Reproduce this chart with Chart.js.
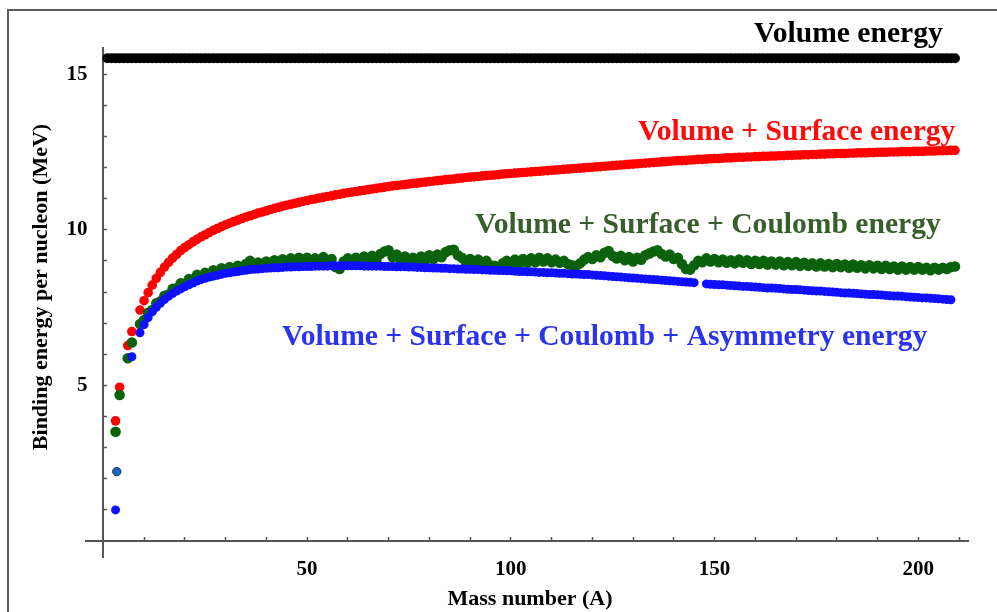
<!DOCTYPE html>
<html>
<head>
<meta charset="utf-8">
<script src="https://cdn.jsdelivr.net/npm/chart.js@4.4.1/dist/chart.umd.min.js"></script>
<style>
  html, body { margin: 0; padding: 0; background: #fff; }
  #c { display: block; }
</style>
</head>
<body>
<canvas id="c" width="997" height="612"></canvas>
<script>
// ---------------- DATA ----------------
const massNumbers = [
  1,2,3,4,5,6,7,8,9,10,11,12,13,14,15,16,17,18,19,20,
  21,22,23,24,25,26,27,28,29,30,31,32,33,34,35,36,37,38,39,40,
  41,42,43,44,45,46,47,48,49,50,51,52,53,54,55,56,57,58,59,60,
  61,62,63,64,65,66,67,68,69,70,71,72,73,74,75,76,77,78,79,80,
  81,82,83,84,85,86,87,88,89,90,91,92,93,94,95,96,97,98,99,100,
  101,102,103,104,105,106,107,108,109,110,111,112,113,114,115,116,117,118,119,120,
  121,122,123,124,125,126,127,128,129,130,131,132,133,134,135,136,137,138,139,140,
  141,142,143,144,145,146,147,148,149,150,151,152,153,154,155,156,157,158,159,160,
  161,162,163,164,165,166,167,168,169,170,171,172,173,174,175,176,177,178,179,180,
  181,182,183,184,185,186,187,188,189,190,191,192,193,194,195,196,197,198,199,200,
  201,202,203,204,205,206,207,208,209
];

const volumeEnergy = [
  15.51,15.51,15.51,15.51,15.51,15.51,15.51,15.51,15.51,15.51,15.51,15.51,15.51,15.51,15.51,15.51,15.51,15.51,15.51,15.51,
  15.51,15.51,15.51,15.51,15.51,15.51,15.51,15.51,15.51,15.51,15.51,15.51,15.51,15.51,15.51,15.51,15.51,15.51,15.51,15.51,
  15.51,15.51,15.51,15.51,15.51,15.51,15.51,15.51,15.51,15.51,15.51,15.51,15.51,15.51,15.51,15.51,15.51,15.51,15.51,15.51,
  15.51,15.51,15.51,15.51,15.51,15.51,15.51,15.51,15.51,15.51,15.51,15.51,15.51,15.51,15.51,15.51,15.51,15.51,15.51,15.51,
  15.51,15.51,15.51,15.51,15.51,15.51,15.51,15.51,15.51,15.51,15.51,15.51,15.51,15.51,15.51,15.51,15.51,15.51,15.51,15.51,
  15.51,15.51,15.51,15.51,15.51,15.51,15.51,15.51,15.51,15.51,15.51,15.51,15.51,15.51,15.51,15.51,15.51,15.51,15.51,15.51,
  15.51,15.51,15.51,15.51,15.51,15.51,15.51,15.51,15.51,15.51,15.51,15.51,15.51,15.51,15.51,15.51,15.51,15.51,15.51,15.51,
  15.51,15.51,15.51,15.51,15.51,15.51,15.51,15.51,15.51,15.51,15.51,15.51,15.51,15.51,15.51,15.51,15.51,15.51,15.51,15.51,
  15.51,15.51,15.51,15.51,15.51,15.51,15.51,15.51,15.51,15.51,15.51,15.51,15.51,15.51,15.51,15.51,15.51,15.51,15.51,15.51,
  15.51,15.51,15.51,15.51,15.51,15.51,15.51,15.51,15.51,15.51,15.51,15.51,15.51,15.51,15.51,15.51,15.51,15.51,15.51,15.51,
  15.51,15.51,15.51,15.51,15.51,15.51,15.51,15.51,15.51
];

const volumeSurface = [
  null,null,3.86,4.94,null,6.28,6.73,null,7.42,7.72,
  7.98,8.22,8.44,8.63,8.80,8.95,9.09,9.21,9.33,9.43,
  9.52,9.61,9.69,9.77,9.84,9.91,9.98,10.04,10.10,10.16,
  10.21,10.26,10.31,10.36,10.41,10.45,10.49,10.54,10.57,10.61,
  10.65,10.69,10.72,10.76,10.79,10.82,10.85,10.88,10.91,10.94,
  10.97,10.99,11.02,11.04,11.07,11.09,11.12,11.14,11.17,11.19,
  11.21,11.23,11.25,11.27,11.29,11.31,11.33,11.35,11.37,11.39,
  11.41,11.42,11.44,11.45,11.47,11.49,11.50,11.52,11.53,11.55,
  11.56,11.58,11.59,11.61,11.62,11.63,11.65,11.66,11.68,11.69,
  11.70,11.71,11.73,11.74,11.75,11.76,11.77,11.79,11.80,11.81,
  11.82,11.83,11.84,11.85,11.86,11.87,11.88,11.89,11.90,11.91,
  11.92,11.93,11.94,11.95,11.96,11.97,11.98,11.99,12.00,12.01,
  12.02,12.03,12.04,12.05,12.06,12.07,12.08,12.09,12.10,12.11,
  12.12,12.13,12.14,12.15,12.16,12.17,12.18,12.19,12.20,12.21,
  12.22,12.22,12.23,12.24,12.25,12.26,12.26,12.27,12.28,12.29,
  12.29,12.30,12.31,12.31,12.32,12.33,12.33,12.34,12.34,12.35,
  12.35,12.36,12.36,12.37,12.37,12.38,12.38,12.39,12.39,12.40,
  12.40,12.41,12.41,12.42,12.42,12.43,12.43,12.44,12.44,12.45,
  12.45,12.45,12.46,12.46,12.47,12.47,12.47,12.48,12.48,12.49,
  12.49,12.49,12.50,12.50,12.50,12.51,12.51,12.51,12.52,12.52,
  12.52,12.53,12.53,12.53,12.54,12.54,12.54,12.55,12.55
];

const volumeSurfaceCoulomb = [
  null,null,3.51,4.69,null,5.87,6.38,null,6.97,7.10,
  7.33,7.42,7.64,7.70,7.88,7.92,8.10,8.12,8.28,8.27,
  8.42,8.40,8.55,8.48,8.62,8.56,8.70,8.62,8.76,8.68,
  8.80,8.70,8.84,8.74,8.90,9.00,8.78,8.95,8.84,8.98,
  8.88,9.02,8.90,9.05,8.92,9.08,8.94,9.10,8.95,9.10,
  8.96,9.08,8.95,9.12,8.92,9.06,8.80,8.74,8.98,9.08,
  8.94,9.10,8.96,9.14,8.98,9.16,9.02,9.22,9.30,9.34,
  9.12,9.20,9.02,9.14,8.96,9.10,8.98,9.14,9.02,9.18,
  9.06,9.20,9.12,9.28,9.34,9.36,9.18,9.10,8.96,9.06,
  8.92,9.04,8.90,9.00,8.86,8.84,8.80,8.92,9.00,8.90,
  9.04,8.92,9.06,8.94,9.08,8.96,9.10,8.98,9.08,8.96,
  9.04,8.94,9.00,8.90,8.86,8.84,8.92,9.04,9.12,9.06,
  9.18,9.12,9.26,9.32,9.16,9.08,9.16,9.02,9.12,8.98,
  9.10,9.04,9.18,9.24,9.30,9.34,9.22,9.14,9.20,9.06,
  9.10,8.90,8.74,8.72,8.86,9.00,8.96,9.08,8.98,9.06,
  8.96,9.04,8.94,9.02,8.92,9.04,8.94,9.02,8.90,9.00,
  8.90,9.00,8.88,8.98,8.88,8.98,8.86,8.96,8.86,8.96,
  8.84,8.94,8.84,8.92,8.82,8.92,8.82,8.90,8.80,8.90,
  8.80,8.88,8.78,8.88,8.78,8.86,8.76,8.86,8.76,8.84,
  8.74,8.84,8.74,8.82,8.72,8.82,8.72,8.80,8.72,8.80,
  8.72,8.78,8.70,8.78,8.72,8.78,8.74,8.80,8.82
];

const volumeSurfaceCoulombAsymmetry = [
  null,null,1.00,null,null,null,5.92,null,6.69,6.95,
  7.18,7.36,7.51,7.64,7.76,7.86,7.95,8.03,8.10,8.17,
  8.23,8.29,8.35,8.40,8.44,8.48,8.51,8.54,8.57,8.60,
  8.62,8.64,8.66,8.68,8.70,8.72,8.73,8.74,8.75,8.76,
  8.77,8.78,8.78,8.79,8.80,8.80,8.81,8.81,8.82,8.82,
  8.82,8.83,8.83,8.83,8.83,8.84,8.84,8.84,8.84,8.84,
  8.84,8.84,8.84,8.83,8.83,8.83,8.83,8.83,8.82,8.82,
  8.82,8.81,8.81,8.81,8.80,8.80,8.79,8.79,8.78,8.78,
  8.77,8.77,8.76,8.76,8.75,8.75,8.74,8.74,8.73,8.73,
  8.72,8.72,8.71,8.71,8.70,8.70,8.69,8.69,8.68,8.68,
  8.67,8.66,8.66,8.65,8.65,8.64,8.63,8.63,8.62,8.62,
  8.61,8.60,8.60,8.59,8.58,8.58,8.57,8.56,8.56,8.55,
  8.54,8.53,8.52,8.51,8.50,8.49,8.48,8.47,8.46,8.45,
  8.44,8.43,8.42,8.41,8.40,8.39,8.38,8.37,8.36,8.35,
  8.34,8.33,8.32,8.31,8.30,null,null,8.26,8.25,8.24,
  8.23,8.23,8.22,8.21,8.20,8.19,8.18,8.18,8.17,8.16,
  8.15,8.14,8.13,8.13,8.12,8.11,8.10,8.09,8.08,8.08,
  8.07,8.06,8.05,8.04,8.03,8.03,8.02,8.01,8.00,7.99,
  7.98,7.97,7.97,7.96,7.95,7.94,7.93,7.92,7.92,7.91,
  7.90,7.89,7.88,7.87,7.87,7.86,7.85,7.84,7.83,7.82,
  7.81,7.81,7.80,7.79,7.78,7.77,7.76,7.75,null
];

// single off-colour point near A = 3
const outlierMass = [3.3];
const outlierValue = [2.23];

const xTickValues = [10,20,30,40,50,60,70,80,90,100,110,120,130,140,150,160,170,180,190,200,210];
const xTickLabels = [50,100,150,200];
const yTickValues = [1,2,3,4,5,6,7,8,9,10,11,12,13,14,15];
const yTickLabels = [5,10,15];

const seriesNames = [
  'Volume energy',
  'Volume + Surface energy',
  'Volume + Surface + Coulomb energy',
  'Volume + Surface + Coulomb + Asymmetry energy'
];
const xTitle = 'Mass number (A)';
const yTitle = 'Binding energy per nucleon (MeV)';

// ---------------- CHART ----------------
const SERIF = '"Liberation Serif", "Times New Roman", serif';
function pts(vals) { return massNumbers.map((a, i) => ({ x: a, y: vals[i] })); }

const decorations = {
  id: 'decorations',
  beforeDraw(chart) {
    const ctx = chart.ctx;
    ctx.save();
    ctx.fillStyle = '#ffffff';
    ctx.fillRect(0, 0, chart.width, chart.height);
    ctx.strokeStyle = '#5c5c5c';
    ctx.lineWidth = 2;
    ctx.beginPath();
    ctx.moveTo(8, 612); ctx.lineTo(8, 10); ctx.lineTo(997, 10);
    ctx.stroke();
    ctx.restore();
  },
  afterDraw(chart) {
    const ctx = chart.ctx;
    ctx.save();
    ctx.textBaseline = 'alphabetic';
    ctx.font = 'bold 29.6px ' + SERIF;
    ctx.textAlign = 'left';
    ctx.fillStyle = '#000000'; ctx.fillText(seriesNames[0], 754, 42);
    ctx.fillStyle = '#ff0a0a'; ctx.fillText(seriesNames[1], 638, 140);
    ctx.fillStyle = '#375e2b'; ctx.fillText(seriesNames[2], 475, 233);
    ctx.fillStyle = '#2b33f0'; ctx.fillText(seriesNames[3], 282, 345);
    // axis titles
    ctx.fillStyle = '#000000';
    ctx.font = 'bold 22px ' + SERIF;
    ctx.textAlign = 'center';
    ctx.fillText(xTitle, 530, 605);
    ctx.translate(47, 287);
    ctx.rotate(-Math.PI / 2);
    ctx.fillText(yTitle, 0, 0);
    ctx.restore();
  }
};

new Chart(document.getElementById('c'), {
  type: 'scatter',
  data: {
    datasets: [
      { label: 'outlier', data: outlierMass.map((a, i) => ({ x: a, y: outlierValue[i] })),
        pointRadius: 4.2, pointBackgroundColor: '#1f63b8', pointBorderColor: '#123a6e', pointBorderWidth: 1, order: 0 },
      { label: seriesNames[3], data: pts(volumeSurfaceCoulombAsymmetry),
        pointRadius: 4.5, pointBackgroundColor: '#1010ff', pointBorderWidth: 0, order: 1 },
      { label: seriesNames[2], data: pts(volumeSurfaceCoulomb),
        pointRadius: 5.3, pointBackgroundColor: '#0c620c', pointBorderWidth: 0, order: 2 },
      { label: seriesNames[1], data: pts(volumeSurface),
        pointRadius: 4.8, pointBackgroundColor: '#ff0000', pointBorderWidth: 0, order: 3 },
      { label: seriesNames[0], data: pts(volumeEnergy),
        pointRadius: 5, pointBackgroundColor: '#000000', pointBorderWidth: 0, order: 4 }
    ]
  },
  options: {
    responsive: false,
    animation: false,
    devicePixelRatio: 1,
    layout: { padding: { left: 86, right: 29, top: 48, bottom: 55 } },
    plugins: { legend: { display: false }, tooltip: { enabled: false } },
    scales: {
      x: {
        type: 'linear',
        min: -4.25, max: 212.2,
        position: { y: 0 },
        afterBuildTicks: (s) => { s.ticks = xTickValues.map(v => ({ value: v })); },
        ticks: {
          autoSkip: false, maxRotation: 0, padding: 21,
          color: '#000', font: { family: SERIF, size: 21, weight: 'bold' },
          callback: (v) => xTickLabels.includes(v) ? String(v) : ''
        },
        grid: { drawOnChartArea: false, drawTicks: true, tickLength: -5, tickColor: '#555', tickWidth: 1.5 },
        border: { display: true, color: '#555', width: 2 }
      },
      y: {
        type: 'linear',
        min: -0.514, max: 15.84,
        position: { x: 0 },
        afterBuildTicks: (s) => { s.ticks = yTickValues.map(v => ({ value: v })); },
        ticks: {
          autoSkip: false, padding: 0,
          color: '#000', font: { family: SERIF, size: 21, weight: 'bold' },
          callback: (v) => yTickLabels.includes(v) ? String(v) + '   ' : ''
        },
        grid: { drawOnChartArea: false, drawTicks: true, tickLength: -5, tickColor: '#555', tickWidth: 1.5 },
        border: { display: true, color: '#555', width: 2 }
      }
    }
  },
  plugins: [decorations]
});
</script>
</body>
</html>
